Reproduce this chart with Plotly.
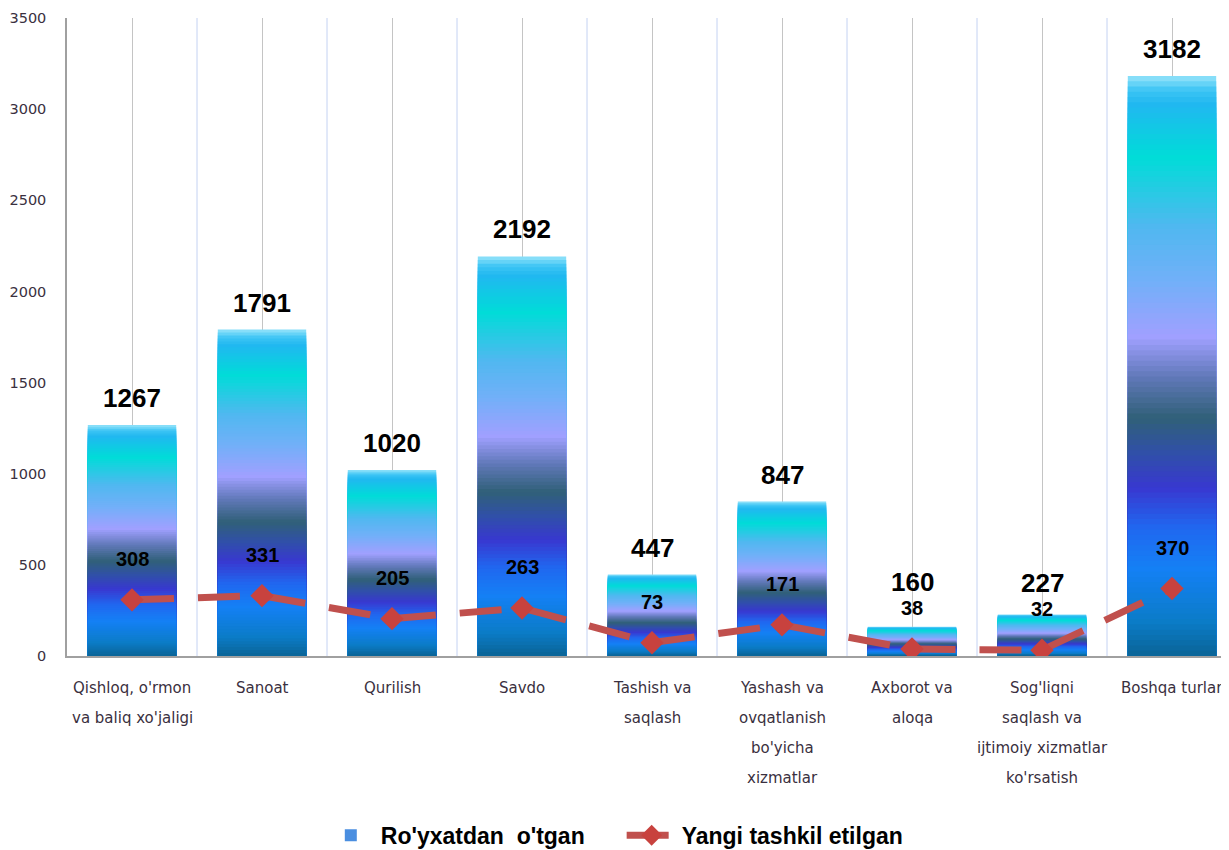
import plotly.graph_objects as go

categories = ["Qishloq, o'rmon va baliq xo'jaligi", "Sanoat", "Qurilish", "Savdo",
              "Tashish va saqlash", "Yashash va ovqatlanish bo'yicha xizmatlar",
              "Axborot va aloqa", "Sog'liqni saqlash va ijtimoiy xizmatlar ko'rsatish",
              "Boshqa turlar"]
label_lines = [["Qishloq, o'rmon", "va baliq xo'jaligi"], ["Sanoat"], ["Qurilish"], ["Savdo"],
               ["Tashish va", "saqlash"], ["Yashash va", "ovqatlanish", "bo'yicha", "xizmatlar"],
               ["Axborot va", "aloqa"], ["Sog'liqni", "saqlash va", "ijtimoiy xizmatlar", "ko'rsatish"],
               ["Boshqa turlar"]]
registered = [1267, 1791, 1020, 2192, 447, 847, 160, 227, 3182]
new_created = [308, 331, 205, 263, 73, 171, 38, 32, 370]
y_ticks = [0, 500, 1000, 1500, 2000, 2500, 3000, 3500]

# gradient stops for the bar fill (fraction of bar height, colour)
stops = [(0.00, (10, 100, 150)), (0.06, (11, 124, 200)), (0.15, (20, 128, 245)),
         (0.22, (32, 104, 240)), (0.29, (56, 56, 208)), (0.35, (48, 80, 168)),
         (0.41, (48, 96, 120)), (0.48, (96, 120, 184)), (0.55, (160, 160, 255)),
         (0.65, (112, 176, 248)), (0.74, (80, 184, 240)), (0.86, (0, 220, 216)),
         (0.95, (32, 184, 240)), (0.975, (60, 196, 244)), (1.00, (150, 228, 250))]


def colour_at(f):
    for (f0, c0), (f1, c1) in zip(stops[:-1], stops[1:]):
        if f0 <= f <= f1:
            t = 0 if f1 == f0 else (f - f0) / (f1 - f0)
            return "rgb(%d,%d,%d)" % tuple(round(a + (b - a) * t) for a, b in zip(c0, c1))
    return "rgb(%d,%d,%d)" % stops[-1][1]


# page body has an 8px margin, so the figure is sized/offset to compensate
FIG_W, FIG_H = 1221, 842
M_L, M_R, M_T, M_B = 59, 0, 10, 194
plot_h = FIG_H - M_T - M_B
plot_w = FIG_W - M_L - M_R
px_per_unit = plot_h / 3500.0
cat_px = 130.0  # category spacing; the last category runs past the page edge

fig = go.Figure()
N = 110
for k in range(N, 0, -1):
    f = k / N
    fig.add_trace(go.Bar(
        x=categories, y=[v * f for v in registered], width=0.68,
        marker=dict(color=colour_at(f - 0.5 / N), line=dict(width=0)),
        showlegend=False, hoverinfo="skip"))

# legend entry for the bars
fig.add_trace(go.Bar(x=categories, y=[None] * len(categories),
                     name="<b>Ro'yxatdan  o'tgan</b>" + "\u00a0" * 5,
                     marker=dict(color="#4a8ee0", line=dict(width=0)), showlegend=True))

fig.add_trace(go.Scatter(
    x=categories, y=new_created, mode="lines+markers", name="<b>Yangi tashkil etilgan</b>",
    line=dict(color="#C0504D", width=7, dash="42px,24px"),
    marker=dict(symbol="diamond", size=18, color="#C8423E", line=dict(width=0))))

annotations = []
for c, v, n in zip(categories, registered, new_created):
    # keep the total label clear of the smaller value label
    centre_above = max(v * px_per_unit + 27, n * px_per_unit + 41 + 26)
    annotations.append(dict(x=c, y=v, xref="x", yref="y", text="<b>%d</b>" % v, showarrow=False,
                            yanchor="middle", yshift=centre_above - v * px_per_unit,
                            font=dict(family="Liberation Sans, Arial", size=26, color="#000")))
for c, v in zip(categories, new_created):
    annotations.append(dict(x=c, y=v, xref="x", yref="y", text="<b>%d</b>" % v, showarrow=False,
                            yanchor="middle", yshift=41,
                            font=dict(family="Liberation Sans, Arial", size=20, color="#000")))
for c, lines in zip(categories, label_lines):
    for j, t in enumerate(lines):
        annotations.append(dict(x=c, y=0, xref="x", yref="paper", text=t, showarrow=False,
                                yanchor="middle", yshift=-(32 + 30 * j),
                                font=dict(family="DejaVu Sans", size=15, color="#3a3040")))

shapes = []
for i in range(len(categories) - 1):
    shapes.append(dict(type="line", xref="x", yref="paper", x0=i + 0.5, x1=i + 0.5, y0=0, y1=1,
                       line=dict(color="#c4d2f2", width=1), layer="below"))

fig.update_layout(
    width=FIG_W, height=FIG_H,
    margin=dict(l=M_L, r=M_R, t=M_T, b=M_B, autoexpand=False),
    paper_bgcolor="white", plot_bgcolor="white",
    barmode="overlay",
    showlegend=True,
    legend=dict(orientation="h", x=0.471, xanchor="center", y=-0.281, yanchor="middle",
                font=dict(family="Liberation Sans, Arial", size=23, color="#000"),
                itemwidth=50, traceorder="normal"),
    annotations=annotations, shapes=shapes,
    xaxis=dict(type="category", range=[-0.5, -0.5 + plot_w / cat_px], showticklabels=False, ticks="",
               showgrid=True, gridcolor="#c4c4c4", gridwidth=1, automargin=False,
               showline=True, linecolor="#a0a0a0", linewidth=1.5, zeroline=False),
    yaxis=dict(range=[0, 3500], tickvals=y_ticks, ticks="", showgrid=False, zeroline=False,
               automargin=False,
               showline=True, linecolor="#a0a0a0", linewidth=1.5, ticklabelstandoff=16,
               tickfont=dict(family="DejaVu Sans", size=14.5, color="#3a3040")),
)

fig.write_html("out.html")
